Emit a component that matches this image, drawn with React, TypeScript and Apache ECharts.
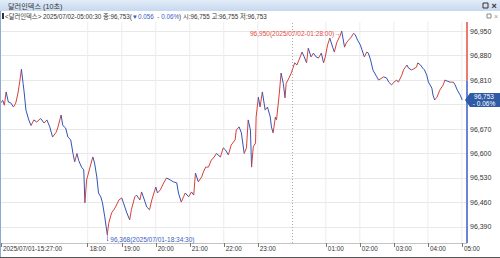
import React, { useEffect, useRef } from "react";
import * as echarts from "echarts";

const TITLE = "달러인덱스 (10초)";
const INFO_HEAD = "<달러인덱스> 2025/07/02-05:00:30 종:96,753(";
const INFO_CHANGE = "▼0.056  - 0.06%";
const INFO_TAIL = ") 시:96,755 고:96,755 저:96,753";

const TIMES = [
  "15:27", "15:30", "15:33", "15:36", "15:40", "15:44", "15:49", "15:53", "15:57", "16:00",
  "16:03", "16:06", "16:08", "16:11", "16:16", "16:20", "16:25", "16:30", "16:37", "16:43",
  "16:48", "16:53", "16:58", "17:04", "17:07", "17:13", "17:16", "17:21", "17:25", "17:30",
  "17:34", "17:37", "17:41", "17:44", "17:49", "17:53", "17:55", "17:58", "18:04", "18:09",
  "18:12", "18:16", "18:19", "18:23", "18:26", "18:30", "18:34:30", "18:37", "18:42", "18:46",
  "18:49", "18:55", "19:00", "19:03", "19:09", "19:14", "19:17", "19:23", "19:26", "19:32",
  "19:35", "19:40", "19:44", "19:49", "19:53", "20:00", "20:03", "20:08", "20:14", "20:19",
  "20:26", "20:31", "20:37", "20:40", "20:45", "20:49", "20:52", "20:58", "21:03", "21:07",
  "21:10", "21:15", "21:21", "21:24", "21:28", "21:33", "21:38", "21:43", "21:47", "21:54",
  "21:59", "22:03", "22:08", "22:13", "22:20", "22:22", "22:27", "22:31", "22:36", "22:40",
  "22:43", "22:47", "22:49", "22:52", "22:56", "22:57", "23:01", "23:04", "23:08", "23:13",
  "23:17", "23:22", "23:24", "23:27", "23:31", "23:33", "23:38", "23:41", "23:45", "23:48",
  "23:50", "23:55", "23:59", "00:05", "00:09", "00:14", "00:18", "00:22", "00:26", "00:29",
  "00:34", "00:38", "00:43", "00:47", "00:52", "00:56", "00:59", "01:03", "01:07", "01:12",
  "01:15", "01:19", "01:23", "01:25", "01:28", "01:33", "01:36", "01:40", "01:45", "01:49",
  "01:52", "01:56", "02:01", "02:05", "02:08", "02:12", "02:15", "02:19", "02:23", "02:26",
  "02:30", "02:33", "02:39", "02:42", "02:47", "02:51", "02:56", "03:00", "03:05", "03:08",
  "03:14", "03:17", "03:23", "03:26", "03:31", "03:35", "03:40", "03:42", "03:47", "03:51",
  "03:54", "03:58", "04:01", "04:07", "04:09", "04:12", "04:16", "04:21", "04:27", "04:30",
  "04:34", "04:39", "04:45", "04:48", "04:52", "04:57", "05:00:30",
];

const VALUES = [
  96.745, 96.752, 96.738, 96.776, 96.747, 96.745, 96.733, 96.744, 96.773, 96.805,
  96.841, 96.800, 96.773, 96.724, 96.696, 96.680, 96.696, 96.690, 96.700, 96.687,
  96.696, 96.676, 96.647, 96.660, 96.673, 96.710, 96.680, 96.673, 96.647, 96.639,
  96.600, 96.576, 96.600, 96.580, 96.561, 96.553, 96.459, 96.524, 96.561, 96.590,
  96.573, 96.533, 96.487, 96.476, 96.459, 96.419, 96.368, 96.400, 96.430, 96.439,
  96.447, 96.467, 96.473, 96.459, 96.430, 96.410, 96.439, 96.476, 96.481, 96.467,
  96.490, 96.467, 96.447, 96.439, 96.467, 96.504, 96.487, 96.496, 96.516, 96.530,
  96.524, 96.519, 96.516, 96.487, 96.461, 96.476, 96.487, 96.476, 96.490, 96.481,
  96.544, 96.519, 96.533, 96.547, 96.561, 96.561, 96.581, 96.590, 96.600, 96.590,
  96.616, 96.610, 96.596, 96.624, 96.639, 96.667, 96.676, 96.659, 96.600, 96.616,
  96.696, 96.667, 96.561, 96.619, 96.630, 96.704, 96.761, 96.733, 96.776, 96.724,
  96.733, 96.704, 96.676, 96.659, 96.704, 96.696, 96.773, 96.830, 96.800, 96.759,
  96.800, 96.816, 96.830, 96.859, 96.853, 96.873, 96.890, 96.876, 96.859, 96.901,
  96.876, 96.887, 96.876, 96.873, 96.887, 96.859, 96.876, 96.910, 96.930, 96.904,
  96.890, 96.916, 96.930, 96.936, 96.950, 96.904, 96.916, 96.924, 96.933, 96.944,
  96.939, 96.924, 96.910, 96.890, 96.876, 96.890, 96.887, 96.867, 96.839, 96.830,
  96.819, 96.810, 96.816, 96.819, 96.816, 96.804, 96.796, 96.804, 96.810, 96.804,
  96.824, 96.839, 96.853, 96.844, 96.839, 96.842, 96.847, 96.859, 96.853, 96.844,
  96.839, 96.824, 96.804, 96.787, 96.767, 96.753, 96.761, 96.781, 96.796, 96.810,
  96.807, 96.804, 96.804, 96.796, 96.781, 96.767, 96.753,
];

const X_TICK_TIMES = ["15:27", "18:00", "19:00", "20:00", "21:00", "22:00", "23:00", "01:00", "02:00", "03:00", "04:00", "05:00"];
const X_TICK_LABELS = ["2025/07/01-15:27:00", "18:00", "19:00", "20:00", "21:00", "22:00", "23:00", "01:00", "02:00", "03:00", "04:00", "05:00"];
const X_GRID_TIMES = ["18:00", "19:00", "20:00", "21:00", "22:00", "23:00", "01:00", "02:00", "03:00", "04:00", "05:00"];
const DAY_BREAK = "00:00";
const X_END_TIME = "05:09";

const Y_TICKS = [96.39, 96.46, 96.53, 96.6, 96.67, 96.74, 96.81, 96.88, 96.95];
const Y_LABELS = [96.39, 96.46, 96.53, 96.6, 96.67, 96.81, 96.88, 96.95];
const Y_MIN = 96.344;
const Y_MAX = 96.976;

const PREV_CLOSE = 96.809;
const LAST_VALUE = 96.753;
const LAST_LABEL = "96,753\n- 0.06%";
const MAX_TIME = "01:28";
const MAX_VALUE = 96.95;
const MAX_LABEL = "96,950(2025/07/02-01:28:00)→";
const MIN_TIME = "18:34:30";
const MIN_VALUE = 96.368;
const MIN_LABEL = "96,368(2025/07/01-18:34:30)";

const RED = "#d8403a";
const BLUE = "#3352b8";
const FONT = "'Liberation Sans', 'Noto Sans CJK KR', sans-serif";

function toMin(t: string): number {
  const p = t.split(":").map(Number);
  let v = p[0] * 60 + p[1] + (p[2] || 0) / 60;
  if (p[0] < 15) v += 1440;
  return v - 927;
}

const fmtY = (v: number) => v.toFixed(3).replace(".", ",");

export default function App() {
  const ref = useRef<HTMLDivElement>(null);
  useEffect(() => {
    if (!ref.current) return;
    const chart = echarts.init(ref.current, null, { renderer: "svg", width: 500, height: 258 });
    const xMax = toMin(X_END_TIME);
    const segs: number[][] = [];
    for (let i = 1; i < TIMES.length; i++) {
      segs.push([toMin(TIMES[i]), VALUES[i], toMin(TIMES[i - 1]), VALUES[i - 1]]);
    }
    const xLabelMap: Record<string, string> = {};
    X_TICK_TIMES.forEach((t, i) => (xLabelMap[String(Math.round(toMin(t)))] = X_TICK_LABELS[i]));

    chart.setOption({
      animation: false,
      grid: { left: 1, right: 33, top: 22, bottom: 15 },
      xAxis: {
        type: "value",
        min: 0,
        max: xMax,
        axisLine: { show: true, lineStyle: { color: "#c4c4c4" } },
        axisTick: {
          show: true,
          length: 4,
          lineStyle: { color: "#777" },
          customValues: X_TICK_TIMES.map(toMin),
        },
        axisLabel: {
          customValues: X_TICK_TIMES.map(toMin),
          formatter: (v: number) => xLabelMap[String(Math.round(v))] || "",
          fontSize: 6.4,
          fontFamily: FONT,
          color: "#333",
          align: "left",
          padding: [0, 0, 0, 2],
          margin: 2,
        },
        splitLine: { show: false },
      },
      yAxis: {
        type: "value",
        position: "right",
        min: Y_MIN,
        max: Y_MAX,
        axisLine: { show: false },
        axisTick: { show: false, customValues: Y_TICKS },
        axisLabel: {
          customValues: Y_LABELS,
          formatter: fmtY,
          fontSize: 7,
          fontFamily: FONT,
          color: "#333",
          margin: 3,
        },
        splitLine: { show: true, lineStyle: { color: "#e8e8e8", width: 1 } },
      },
      series: [
        {
          type: "line",
          silent: true,
          symbol: "none",
          clip: false,
          data: X_GRID_TIMES.flatMap((t) => [[toMin(t), Y_MIN], [toMin(t), Y_MAX], null]),
          connectNulls: false,
          lineStyle: { color: "#ececec", width: 1 },
          z: 1,
          markLine: {
            silent: true,
            symbol: "none",
            label: { show: false },
            lineStyle: { color: "#a8a8a8", type: [1, 2], width: 1 },
            data: [{ xAxis: toMin(DAY_BREAK) }],
          },
        },
        {
          type: "custom",
          silent: true,
          clip: true,
          encode: { x: [0, 2], y: [1, 3] },
          data: segs,
          z: 3,
          renderItem: (params: any, api: any) => {
            const p1 = api.coord([api.value(2), api.value(3)]);
            const p2 = api.coord([api.value(0), api.value(1)]);
            const up = api.value(1) >= api.value(3);
            return {
              type: "line",
              shape: { x1: p1[0], y1: p1[1], x2: p2[0], y2: p2[1] },
              style: { stroke: up ? RED : BLUE, lineWidth: 1 },
            };
          },
        },
        {
          type: "line",
          silent: true,
          symbol: "none",
          clip: false,
          z: 4,
          data: [[xMax, Y_MAX], [xMax, PREV_CLOSE]],
          lineStyle: { color: "#e05040", width: 1.5 },
          markPoint: {
            symbol: "circle",
            symbolSize: 0,
            silent: true,
            data: [
              {
                coord: [toMin(MAX_TIME), MAX_VALUE],
                label: {
                  show: true,
                  position: "left",
                  distance: 1,
                  offset: [0, 2],
                  formatter: MAX_LABEL,
                  color: "#e04a3f",
                  fontSize: 6.5,
                  fontFamily: FONT,
                },
              },
              {
                coord: [toMin(MIN_TIME), MIN_VALUE],
                label: {
                  show: true,
                  position: "right",
                  distance: 0,
                  offset: [3, 5],
                  formatter: MIN_LABEL,
                  color: "#3a5cc4",
                  fontSize: 6.5,
                  fontFamily: FONT,
                },
              },
            ],
          },
          markLine: {
            silent: true,
            symbol: "none",
            label: { show: false },
            lineStyle: { color: "#3a5cc4", type: [1, 1], width: 1 },
            data: [
              [{ coord: [toMin(MIN_TIME), MIN_VALUE] }, { coord: [toMin(MIN_TIME), MIN_VALUE - 0.017] }],
              [{ coord: [toMin(MIN_TIME), MIN_VALUE - 0.017] }, { coord: [toMin(MIN_TIME) + 3, MIN_VALUE - 0.017] }],
            ],
          },
        },
        {
          type: "line",
          silent: true,
          symbol: "none",
          clip: false,
          z: 4,
          data: [[xMax, PREV_CLOSE], [xMax, Y_MIN]],
          lineStyle: { color: "#3a5cc4", width: 1.5 },
        },
      ],
    });

    const yLast = chart.convertToPixel({ yAxisIndex: 0 }, LAST_VALUE) as number;
    const xEdge = chart.convertToPixel({ xAxisIndex: 0 }, xMax) as number;

    chart.setOption({
      graphic: [
        {
          type: "rect",
          shape: { x: 0, y: 0, width: 500, height: 11 },
          style: {
            fill: new echarts.graphic.LinearGradient(0, 0, 0, 1, [
              { offset: 0, color: "#e3edf9" },
              { offset: 1, color: "#c6d8ef" },
            ]),
          },
          z: 10,
        },
        {
          type: "text",
          x: 8,
          y: 6,
          style: { text: TITLE, fill: "#333", font: `7.2px ${FONT}`, verticalAlign: "middle" },
          z: 11,
        },
        {
          type: "rect",
          shape: { x: 483, y: 3, width: 5, height: 5 },
          style: { fill: "none", stroke: "#333", lineWidth: 1 },
          z: 11,
        },
        {
          type: "text",
          x: 494,
          y: 5.5,
          style: { text: "×", fill: "#333", font: `bold 9px ${FONT}`, align: "center", verticalAlign: "middle" },
          z: 11,
        },
        {
          type: "rect",
          shape: { x: 2, y: 13, width: 2, height: 6 },
          style: { fill: "#333" },
          z: 11,
        },
        {
          type: "text",
          x: 5,
          y: 16.5,
          style: {
            text: `{a|${INFO_HEAD}}{b|${INFO_CHANGE}}{a|${INFO_TAIL}}`,
            verticalAlign: "middle",
            rich: {
              a: { fill: "#333", fontSize: 6.3, fontFamily: FONT },
              b: { fill: "#3a5cc4", fontSize: 6.3, fontFamily: FONT },
            },
          },
          z: 11,
        },
        {
          type: "rect",
          shape: { x: 487, y: 14, width: 4, height: 4 },
          style: { fill: "none", stroke: "#888", lineWidth: 1 },
          z: 11,
        },
        {
          type: "text",
          x: 496,
          y: 16.5,
          style: { text: "×", fill: "#999", font: `7px ${FONT}`, align: "center", verticalAlign: "middle" },
          z: 11,
        },
        {
          type: "polygon",
          shape: {
            points: [
              [xEdge - 2, yLast],
              [xEdge + 3, yLast - 7],
              [500, yLast - 7],
              [500, yLast + 7],
              [xEdge + 3, yLast + 7],
            ],
          },
          style: { fill: "#2f5aa6" },
          z: 12,
        },
        {
          type: "text",
          x: 484,
          y: yLast,
          style: {
            text: LAST_LABEL,
            fill: "#fff",
            font: `6.5px ${FONT}`,
            align: "center",
            verticalAlign: "middle",
            lineHeight: 7,
          },
          z: 13,
        },
        {
          type: "line",
          shape: { x1: 0.5, y1: 11, x2: 0.5, y2: 258 },
          style: { stroke: "#8eaad0", lineWidth: 1 },
          z: 11,
        },
        {
          type: "line",
          shape: { x1: 0, y1: 257.5, x2: 500, y2: 257.5 },
          style: { stroke: "#555", lineWidth: 1 },
          z: 11,
        },
      ],
    });

    return () => chart.dispose();
  }, []);
  return (
    <div
      ref={ref}
      style={{ position: "fixed", left: 0, top: 0, width: 500, height: 258, background: "#fff" }}
    />
  );
}
